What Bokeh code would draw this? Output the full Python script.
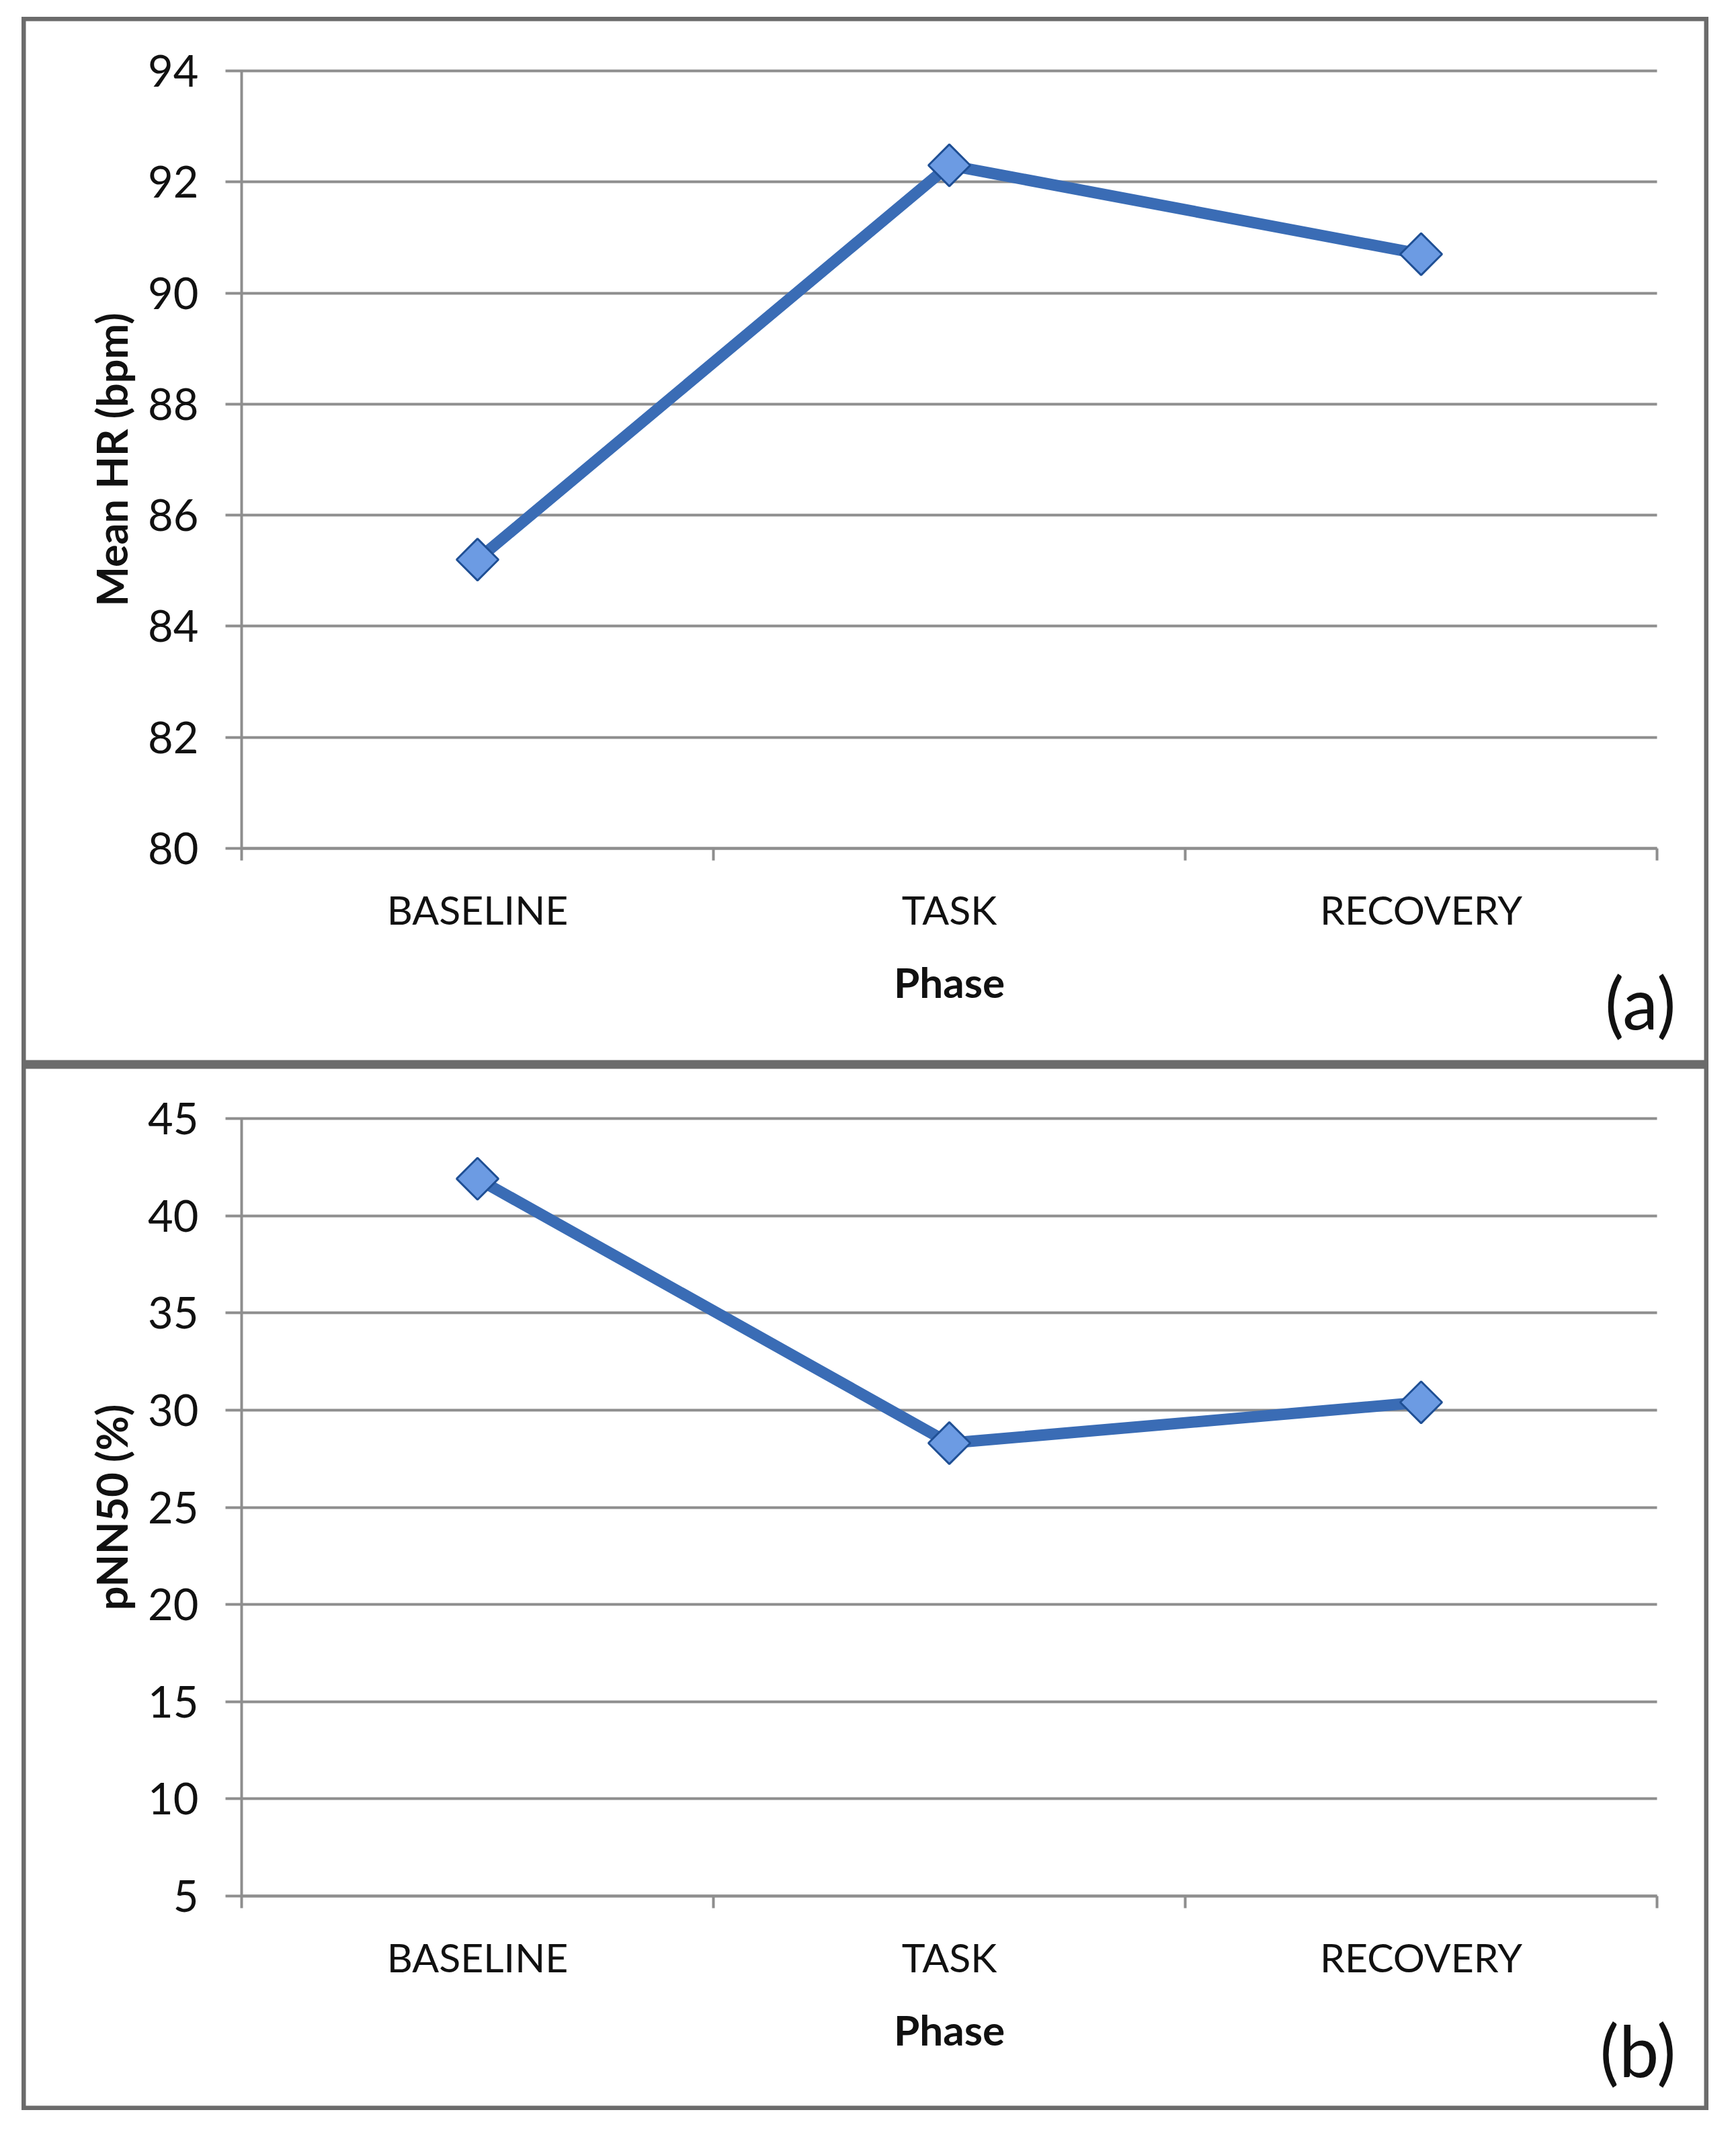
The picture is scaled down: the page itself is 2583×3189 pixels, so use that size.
import math
from bokeh.plotting import figure
from bokeh.models import Range1d, FixedTicker, Label, Spacer, ColumnDataSource
from bokeh.layouts import column, row
from bokeh.embed import file_html
from bokeh.resources import INLINE

# ---- data ----
phases = ["BASELINE", "TASK", "RECOVERY"]
mean_hr = [85.2, 92.3, 90.7]
pnn50 = [41.9, 28.3, 30.4]
hr_ticks = [80, 82, 84, 86, 88, 90, 92, 94]
pnn_ticks = [5, 10, 15, 20, 25, 30, 35, 40, 45]
y_titles = ["Mean HR (bpm)", "pNN50 (%)"]
x_title = "Phase"
panel_tags = ["(a)", "(b)"]

# ---- styling / layout constants (pixels) ----
GRAY = "#8e8e8e"
BORDER = "#6b6b6b"
TXT = "#111111"
FONT = "Lato"
PANEL_W = 2510
PLOT_L, PLOT_R = 327, 2433      # plot-area edges inside a panel
PLOT_T, PLOT_B = 80, 1237


def make_panel(values, yticks, ytitle, tag, height):
    n = len(phases)
    xs = [i + 0.5 for i in range(n)]
    src = ColumnDataSource(dict(x=xs, y=values, phase=phases))

    # ranges so that the category block [0, n] and the tick span fill the plot area
    xpx = (PLOT_R - PLOT_L) / n
    x0 = -PLOT_L / xpx
    x1 = n + (PANEL_W - PLOT_R) / xpx
    ylo, yhi = yticks[0], yticks[-1]
    ypx = (PLOT_B - PLOT_T) / (yhi - ylo)
    y1 = yhi + PLOT_T / ypx
    y0 = ylo - (height - PLOT_B) / ypx

    p = figure(width=PANEL_W, height=height, output_backend="svg", toolbar_location=None,
               x_range=Range1d(x0, x1), y_range=Range1d(y0, y1),
               min_border=0, min_border_left=0, min_border_right=0,
               min_border_top=0, min_border_bottom=0,
               background_fill_color="white", border_fill_color="white")
    p.outline_line_color = BORDER
    p.outline_line_width = 12
    p.xgrid.visible = False
    p.ygrid.visible = False

    # y axis (its inward ticks span the plot area as the horizontal grid lines)
    ya = p.yaxis[0]
    ya.fixed_location = 0
    ya.bounds = (ylo, yhi)
    ya.level = "underlay"
    ya.ticker = FixedTicker(ticks=yticks)
    ya.axis_line_color = GRAY
    ya.axis_line_width = 4
    ya.major_tick_line_color = GRAY
    ya.major_tick_line_width = 4
    ya.major_tick_out = 24
    ya.major_tick_in = PLOT_R - PLOT_L
    ya.minor_tick_line_color = None
    ya.major_label_standoff = 40
    ya.major_label_text_font = FONT
    ya.major_label_text_font_size = "65px"
    ya.major_label_text_color = TXT
    ya.axis_label = ytitle
    ya.axis_label_text_font = FONT
    ya.axis_label_text_font_style = "bold"
    ya.axis_label_text_font_size = "63px"
    ya.axis_label_text_color = TXT
    ya.axis_label_standoff = 14

    # x axis: labels at category centres, tick marks at category boundaries
    xa = p.xaxis[0]
    xa.fixed_location = ylo
    xa.bounds = (0, n)
    xa.ticker = FixedTicker(ticks=xs, minor_ticks=list(range(n + 1)))
    xa.major_label_overrides = {x: name for x, name in zip(xs, phases)}
    xa.axis_line_color = GRAY
    xa.axis_line_width = 4
    xa.major_tick_line_color = None
    xa.major_tick_out = 0
    xa.major_tick_in = 0
    xa.minor_tick_line_color = GRAY
    xa.minor_tick_line_width = 4
    xa.minor_tick_out = 18
    xa.minor_tick_in = 0
    xa.major_label_standoff = 37
    xa.major_label_text_font = FONT
    xa.major_label_text_font_size = "59px"
    xa.major_label_text_color = TXT
    xa.axis_label = x_title
    xa.axis_label_text_font = FONT
    xa.axis_label_text_font_style = "bold"
    xa.axis_label_text_font_size = "62px"
    xa.axis_label_text_color = TXT
    xa.axis_label_standoff = 32

    # series
    p.line("x", "y", source=src, line_color="#3a6cb5", line_width=17, line_join="round")
    p.scatter("x", "y", source=src, marker="square", size=44, angle=math.pi / 4,
              fill_color="#6c9be3", line_color="#1f4f94", line_width=3)

    # panel tag
    p.add_layout(Label(x=n, y=ylo, text=tag, text_align="right",
                       text_baseline="alphabetic", x_offset=28, y_offset=-228,
                       text_font=FONT, text_font_size="106px", text_color=TXT))
    return p


pa = make_panel(mean_hr, hr_ticks, y_titles[0], panel_tags[0], 1559)
pb = make_panel(pnn50, pnn_ticks, y_titles[1], panel_tags[1], 1556)

layout = column(Spacer(height=25),
                row(Spacer(width=32), column(pa, pb)))

open("out.html", "w").write(file_html(layout, INLINE))
